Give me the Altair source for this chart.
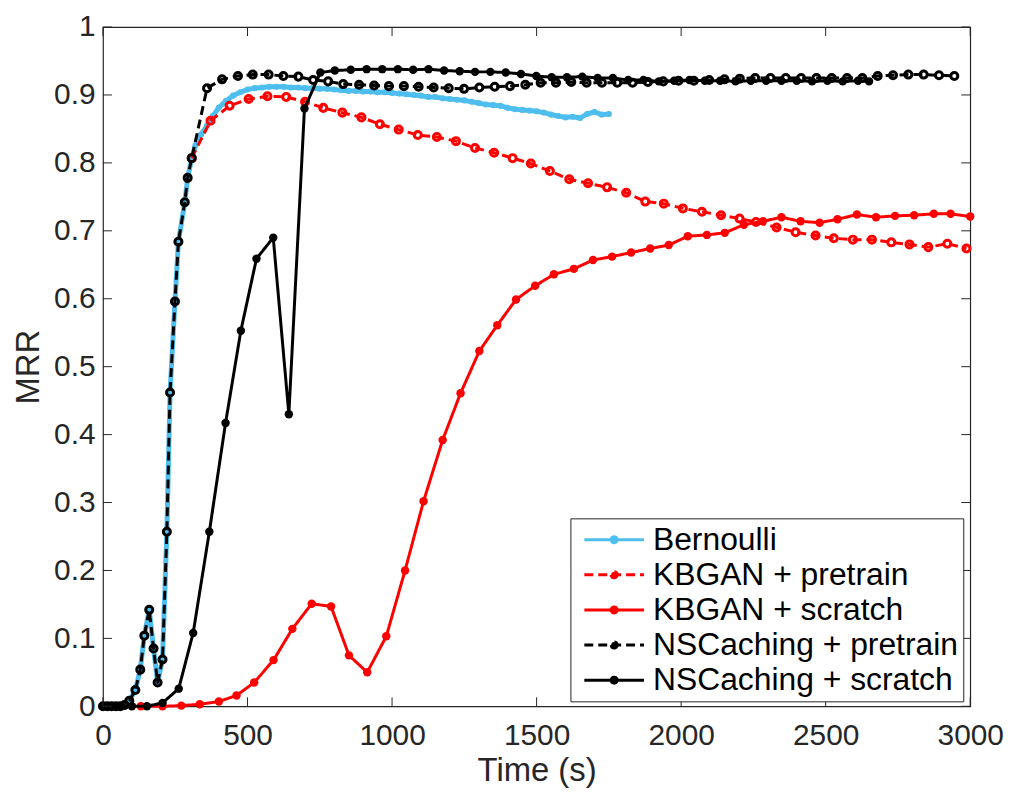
import altair as alt
import pandas as pd

# ---------------- data ----------------
series_names = ["Bernoulli", "KBGAN + pretrain", "KBGAN + scratch",
                "NSCaching + pretrain", "NSCaching + scratch"]
series_colors = ["#4DBEEE", "#FF0000", "#FF0000", "#000000", "#000000"]

bern_t = [0, 15, 30, 45, 60, 75, 91, 112, 129, 143, 160, 175, 189, 206, 221, 232,
          249, 261, 283, 293, 307, 320, 340, 360, 380, 400, 425, 450, 475, 500, 525,
          550, 575, 600, 625, 650, 675, 700, 725, 750, 775, 800, 825, 850, 875, 900,
          925, 950, 975, 1000, 1025, 1050, 1075, 1100, 1125, 1150, 1175, 1200, 1225,
          1250, 1275, 1300, 1325, 1350, 1375, 1400, 1425, 1450, 1475, 1500, 1525,
          1550, 1575, 1600, 1625, 1650, 1675, 1700, 1725, 1750]
bern_mrr = [0, 0, 0, 0, 0, 0.002, 0.008, 0.024, 0.054, 0.104, 0.142, 0.085, 0.035,
            0.069, 0.257, 0.462, 0.596, 0.684, 0.742, 0.778, 0.807, 0.826, 0.842,
            0.855, 0.869, 0.881, 0.891, 0.899, 0.904, 0.908, 0.910, 0.911, 0.912,
            0.912, 0.912, 0.911, 0.911, 0.910, 0.910, 0.909, 0.909, 0.908, 0.907,
            0.906, 0.906, 0.905, 0.905, 0.904, 0.904, 0.903, 0.902, 0.901, 0.900,
            0.899, 0.897, 0.897, 0.895, 0.894, 0.893, 0.892, 0.890, 0.888, 0.886,
            0.885, 0.884, 0.881, 0.879, 0.878, 0.877, 0.876, 0.874, 0.871, 0.869,
            0.867, 0.868, 0.866, 0.872, 0.875, 0.871, 0.872]

kbp_t = [307, 372, 438, 504, 569, 634, 699, 762, 828, 894, 958, 1023, 1089, 1155,
         1221, 1287, 1353, 1417, 1480, 1546, 1613, 1678, 1744, 1810, 1876, 1940,
         2006, 2072, 2138, 2202, 2259, 2330, 2396, 2465, 2528, 2594, 2660, 2727,
         2790, 2855, 2921, 2987]
kbp_mrr = [0.807, 0.862, 0.884, 0.894, 0.898, 0.897, 0.890, 0.881, 0.874, 0.867,
           0.857, 0.849, 0.841, 0.838, 0.832, 0.822, 0.815, 0.807, 0.799, 0.788,
           0.776, 0.770, 0.764, 0.756, 0.743, 0.740, 0.733, 0.728, 0.723, 0.718,
           0.713, 0.705, 0.698, 0.693, 0.689, 0.687, 0.687, 0.683, 0.680, 0.676,
           0.681, 0.674]

kbs_t = [131, 206, 271, 335, 401, 462, 523, 590, 655, 722, 789, 851, 914, 980, 1045,
         1109, 1175, 1237, 1302, 1364, 1429, 1495, 1560, 1629, 1695, 1761, 1827,
         1893, 1957, 2023, 2089, 2151, 2217, 2283, 2347, 2413, 2479, 2541, 2608,
         2674, 2740, 2806, 2874, 2932, 3000]
kbs_mrr = [0, 0, 0.001, 0.003, 0.007, 0.016, 0.035, 0.068, 0.114, 0.151, 0.147,
           0.075, 0.050, 0.103, 0.200, 0.302, 0.392, 0.461, 0.523, 0.561, 0.599,
           0.619, 0.636, 0.644, 0.657, 0.662, 0.668, 0.674, 0.679, 0.692, 0.694,
           0.697, 0.709, 0.714, 0.720, 0.714, 0.712, 0.717, 0.724, 0.720, 0.722,
           0.723, 0.725, 0.725, 0.721]

nsp_t = [0, 15, 30, 45, 60, 75, 91, 112, 129, 143, 160, 175, 189, 206, 221, 232,
         249, 261, 283, 293, 307, 360, 412, 467, 518, 573, 624, 676, 727, 779, 831,
         886, 938, 989, 1041, 1092, 1144, 1196, 1249, 1302, 1355, 1408, 1461, 1514,
         1567, 1620, 1673, 1726, 1779, 1832, 1885, 1938, 1991, 2044, 2097, 2150,
         2203, 2256, 2309, 2362, 2415, 2468, 2521, 2574, 2627, 2680, 2733, 2786,
         2839, 2892, 2945]
nsp_mrr = [0, 0, 0, 0, 0, 0.002, 0.008, 0.024, 0.054, 0.104, 0.142, 0.085, 0.035,
           0.069, 0.257, 0.462, 0.596, 0.684, 0.742, 0.778, 0.807, 0.910, 0.923,
           0.928, 0.930, 0.930, 0.928, 0.927, 0.922, 0.920, 0.916, 0.915, 0.914,
           0.913, 0.913, 0.912, 0.911, 0.910, 0.909, 0.911, 0.912, 0.913, 0.915,
           0.918, 0.918, 0.919, 0.918, 0.918, 0.918, 0.918, 0.919, 0.920, 0.921,
           0.921, 0.922, 0.923, 0.924, 0.925, 0.925, 0.925, 0.925, 0.925, 0.925,
           0.925, 0.925, 0.928, 0.929, 0.930, 0.930, 0.929, 0.928]

nss_t = [0, 50, 100, 152, 206, 262, 312, 368, 424, 477, 531, 589, 643, 697, 752,
         802, 857, 912, 966, 1020, 1073, 1126, 1180, 1234, 1287, 1340, 1393, 1446,
         1499, 1552, 1605, 1658, 1711, 1764, 1817, 1870, 1923, 1976, 2029, 2082,
         2135, 2188, 2241, 2294, 2347, 2400, 2453, 2506, 2559, 2612, 2650]
nss_mrr = [0, 0, 0, 0, 0.005, 0.026, 0.108, 0.257, 0.417, 0.553, 0.659, 0.690,
           0.430, 0.880, 0.933, 0.936, 0.937, 0.938, 0.938, 0.938, 0.937, 0.938,
           0.936, 0.935, 0.934, 0.934, 0.933, 0.931, 0.928, 0.926, 0.926, 0.927,
           0.925, 0.925, 0.922, 0.922, 0.920, 0.921, 0.922, 0.921, 0.921, 0.920,
           0.921, 0.921, 0.921, 0.921, 0.920, 0.921, 0.920, 0.921, 0.920]

x_ticks = [0, 500, 1000, 1500, 2000, 2500, 3000]
y_ticks = [0, 0.1, 0.2, 0.3, 0.4, 0.5, 0.6, 0.7, 0.8, 0.9, 1]

# ---------------- build tables ----------------
all_series = [
    ("Bernoulli", bern_t, bern_mrr),
    ("KBGAN + pretrain", kbp_t, kbp_mrr),
    ("KBGAN + scratch", kbs_t, kbs_mrr),
    ("NSCaching + pretrain", nsp_t, nsp_mrr),
    ("NSCaching + scratch", nss_t, nss_mrr),
]
rows = []
for name, ts, ms in all_series:
    for i, (t, m) in enumerate(zip(ts, ms)):
        rows.append({"series": name, "t": t, "mrr": m, "i": i})
df = pd.DataFrame(rows)
xt_df = pd.DataFrame({"t": x_ticks})
yt_df = pd.DataFrame({"mrr": y_ticks})

W, H = 872, 683
FONT = "Liberation Sans"
TXT = "#262626"
TICK = 9

xscale = alt.Scale(domain=[0, 3000], nice=False, zero=False)
yscale = alt.Scale(domain=[0, 1], nice=False, zero=False)
cscale = alt.Scale(domain=series_names, range=series_colors)
dscale = alt.Scale(domain=series_names,
                   range=[[1, 0], [9, 5], [1, 0], [9, 5], [1, 0]])

x_axis = alt.Axis(values=x_ticks, format="d", title="Time (s)", grid=False,
                  domain=False, ticks=False, labelFlush=False, labelFontSize=30,
                  labelFont=FONT, labelColor=TXT, labelPadding=14,
                  titleFontSize=33, titleFont=FONT, titleColor=TXT,
                  titleFontWeight="normal", titlePadding=5, labelOverlap=False)
y_axis = alt.Axis(values=y_ticks, format="~g", title="MRR", grid=False,
                  domain=False, ticks=False, labelFontSize=30, labelFont=FONT,
                  labelColor=TXT, labelPadding=8, titleFontSize=33,
                  titleFont=FONT, titleColor=TXT, titleFontWeight="normal",
                  titlePadding=8, labelOverlap=False, labelFlush=False)

X = alt.X("t:Q", scale=xscale, axis=x_axis)
Y = alt.Y("mrr:Q", scale=yscale, axis=y_axis)

# legend symbol: a 60px line with a small marker in its middle
sym_path = ("M-0.5,0H3.5M1.7,0A0.2,0.2,0,1,1,1.3,0"
            "A0.2,0.2,0,1,1,1.7,0Z")
legend = alt.Legend(title=None, orient="none", legendX=470, legendY=494,
                    fillColor="white", strokeColor=TXT, padding=5,
                    symbolType=sym_path, symbolSize=900, symbolStrokeWidth=3,
                    labelFontSize=32, labelFont=FONT, labelColor="black",
                    labelOffset=45, rowPadding=2.3, labelLimit=0)

layers = []
marker_cfg = {
    "Bernoulli": dict(filled=True, size=38, strokeWidth=0),
    "KBGAN + pretrain": dict(filled=False, size=50, strokeWidth=3),
    "KBGAN + scratch": dict(filled=True, size=72, strokeWidth=0),
    "NSCaching + pretrain": dict(filled=False, size=50, strokeWidth=3),
    "NSCaching + scratch": dict(filled=True, size=72, strokeWidth=0),
}
for name in series_names:
    sub = alt.Chart(df).transform_filter(alt.datum.series == name)
    lw = 5 if name == "Bernoulli" else 3
    line = sub.mark_line(strokeWidth=lw, strokeCap="butt", strokeJoin="round").encode(
        x=X, y=Y,
        color=alt.Color("series:N", scale=cscale, legend=legend),
        strokeDash=alt.StrokeDash("series:N", scale=dscale, legend=legend),
        order="i:Q",
    )
    pts = sub.mark_point(shape="circle", opacity=1, **marker_cfg[name]).encode(
        x=X, y=Y,
        color=alt.Color("series:N", scale=cscale, legend=None),
    )
    layers += [line, pts]

# inward tick marks on all four sides of the box (MATLAB style)
tb = alt.Chart(xt_df).mark_rule(color=TXT, strokeWidth=1).encode(
    x=X, y=alt.value(H), y2=alt.value(H - TICK))
tt = alt.Chart(xt_df).mark_rule(color=TXT, strokeWidth=1).encode(
    x=X, y=alt.value(0), y2=alt.value(TICK))
tl = alt.Chart(yt_df).mark_rule(color=TXT, strokeWidth=1).encode(
    y=Y, x=alt.value(0), x2=alt.value(TICK))
tr = alt.Chart(yt_df).mark_rule(color=TXT, strokeWidth=1).encode(
    y=Y, x=alt.value(W), x2=alt.value(W - TICK))

chart = alt.layer(*layers, tb, tt, tl, tr).properties(
    width=W, height=H, autosize="none",
    padding={"left": 95.5, "top": 17, "right": 40, "bottom": 80},
    background="white",
).configure_view(stroke=TXT, strokeWidth=1.2)

chart.save("out.html", embed_options={"renderer": "svg", "actions": False})
